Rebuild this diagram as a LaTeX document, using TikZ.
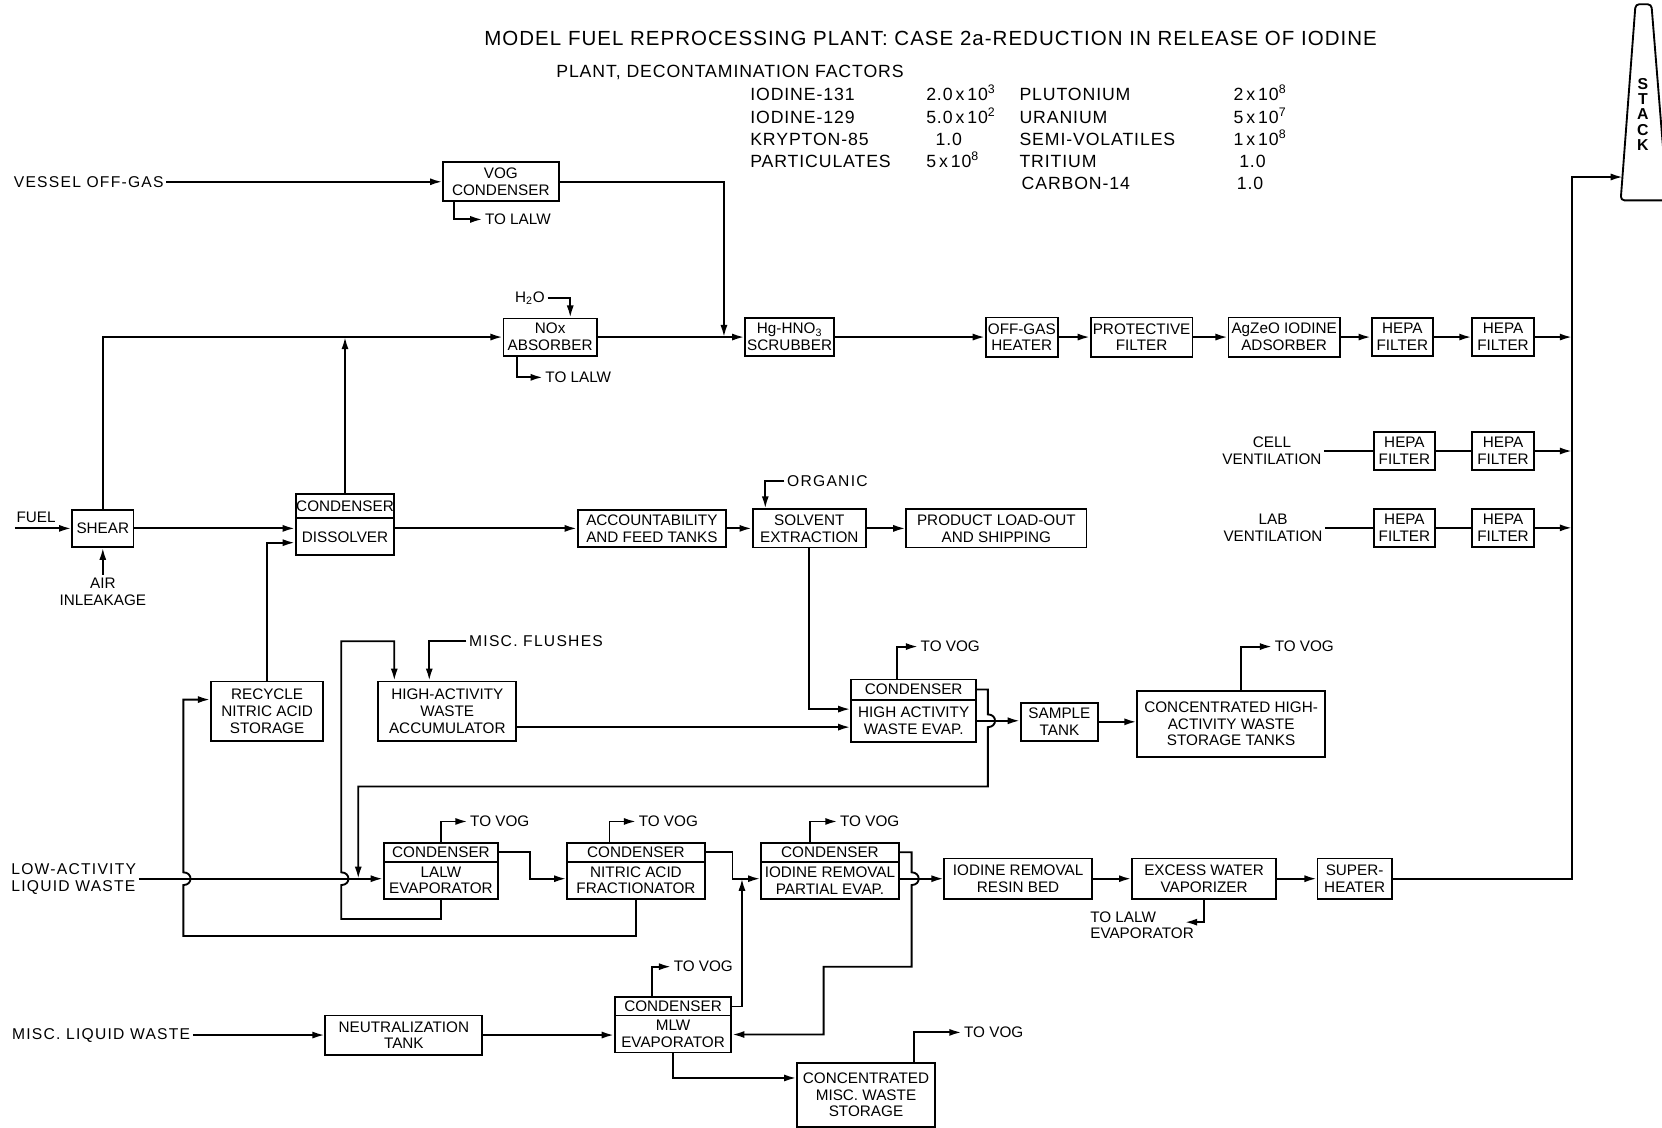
\documentclass[tikz,border=0pt]{standalone}
\usepackage{fontspec}
\setmainfont{Liberation Sans}
\usetikzlibrary{arrows.meta}
\begin{document}
\begin{tikzpicture}[x=0.02cm, y=-0.02cm, line width=1pt, >={Latex[length=6.5pt,width=3.8pt]},
    font=\fontsize{8.2}{9}\selectfont,
    bx/.style 2 args={draw, align=center, inner sep=0pt, minimum width=#1*0.02cm, minimum height=#2*0.02cm},
    lb/.style={inner sep=1pt, align=center},
    wl/.style={lb, font=\fontsize{8.4}{9.2}\selectfont\addfontfeature{LetterSpace=8}},
    tb/.style={anchor=west, inner sep=0pt, text height=6.8pt, text depth=0pt, font=\fontsize{9.5}{10}\selectfont\addfontfeature{LetterSpace=5}}]
  \useasboundingbox (0,0) rectangle (1568,1064);
  \node[font=\fontsize{11}{12}\selectfont\addfontfeature{LetterSpace=5}] (ttl) at (878,36) {MODEL FUEL REPROCESSING PLANT: CASE 2a-REDUCTION IN RELEASE OF IODINE};
  \node[tb] (dfh) at (524,67) {PLANT, DECONTAMINATION FACTORS};
  \foreach \rw/\yy/\na/\va/\nb/\vb in {1/89/IODINE-131/{2.0\,x\,10\textsuperscript{3}}/PLUTONIUM/{2\,x\,10\textsuperscript{8}},
      2/111/IODINE-129/{5.0\,x\,10\textsuperscript{2}}/URANIUM/{5\,x\,10\textsuperscript{7}},
      3/131/KRYPTON-85/{\hspace{5pt}1.0}/SEMI-VOLATILES/{1\,x\,10\textsuperscript{8}},
      4/152/PARTICULATES/{5\,x\,10\textsuperscript{8}}/TRITIUM/{\hspace{3pt}1.0}} {
    \node[tb] (na\rw) at (707,\yy) {\na};
    \node[tb] (va\rw) at (873,\yy) {\va};
    \node[tb] (nb\rw) at (961,\yy) {\nb};
    \node[tb] (vb\rw) at (1163,\yy) {\vb};
  }
  \node[tb] (nb5) at (963,173) {CARBON-14};
  \node[tb] (vb5) at (1166,173) {1.0};
  % stack
  \draw[rounded corners=2] (1529,189) -- (1543,4) -- (1558,4) -- (1573,189) -- cycle;
  \node[align=center, font=\fontsize{8.5}{8.2}\selectfont\bfseries] (stack) at (1550,108) {S\\T\\A\\C\\K};
  \coordinate (ctop) at (1483,167);
  \coordinate (stk) at (1531,167);
  % off-gas line
  \node[bx={109}{37}] (vog) at (472.5,171.5) {VOG\\CONDENSER};
  \node[bx={88}{35}] (nox) at (519,318) {NOx\\ABSORBER};
  \node[bx={84}{36}] (scr) at (745,318) {Hg-HNO\textsubscript{3}\\SCRUBBER};
  \node[bx={68}{37}] (ogh) at (964,318) {OFF-GAS\\HEATER};
  \node[bx={96}{37}] (pf) at (1077,318) {PROTECTIVE\\FILTER};
  \node[bx={105}{37}] (agz) at (1211.5,318) {AgZeO IODINE\\ADSORBER};
  \foreach \nm/\px/\py in {h1/1323/318, h2/1418/318, h3/1325/425.5, h4/1418/425.5, h5/1325/498, h6/1418/498}
    \node[bx={58}{36}] (\nm) at (\px,\py) {HEPA\\FILTER};
  % head end
  \node[bx={58}{35}] (sh) at (97,498.5) {SHEAR};
  \node[bx={93}{23}] (con1) at (325.5,477.5) {CONDENSER};
  \node[bx={93}{35}] (dis) at (325.5,506.5) {DISSOLVER};
  \node[bx={140}{35}] (acc) at (615,498.5) {ACCOUNTABILITY\\AND FEED TANKS};
  \node[bx={107}{36}] (sx) at (763.5,498.5) {SOLVENT\\EXTRACTION};
  \node[bx={170}{36}] (prod) at (940,498.5) {PRODUCT LOAD-OUT\\AND SHIPPING};
  \node[bx={106}{56}] (rec) at (252,671) {RECYCLE\\NITRIC ACID\\STORAGE};
  \node[bx={130}{56}] (hawa) at (422,671) {HIGH-ACTIVITY\\WASTE\\ACCUMULATOR};
  \node[bx={118}{19}] (con2) at (862,650.5) {CONDENSER};
  \node[bx={118}{40}] (hev) at (862,680) {HIGH ACTIVITY\\WASTE EVAP.};
  \node[bx={73}{36}] (st) at (999.5,681) {SAMPLE\\TANK};
  \node[bx={177}{62}] (chaw) at (1161.5,683) {CONCENTRATED HIGH-\\ACTIVITY WASTE\\STORAGE TANKS};
  % liquid waste
  \node[bx={108}{18}] (con3) at (416,804) {CONDENSER};
  \node[bx={108}{35}] (lev) at (416,830.5) {LALW\\EVAPORATOR};
  \node[bx={130}{18}] (con4) at (600,804) {CONDENSER};
  \node[bx={130}{35}] (naf) at (600,830.5) {NITRIC ACID\\FRACTIONATOR};
  \node[bx={130}{18}] (con5) at (783,804) {CONDENSER};
  \node[bx={130}{35}] (irp) at (783,830.5) {IODINE REMOVAL\\PARTIAL EVAP.};
  \node[bx={139}{38}] (irb) at (960.5,829) {IODINE REMOVAL\\RESIN BED};
  \node[bx={136}{38}] (ewv) at (1136,829) {EXCESS WATER\\VAPORIZER};
  \node[bx={70}{38}] (sup) at (1278,829) {SUPER-\\HEATER};
  \node[bx={148}{37}] (neu) at (381,976.5) {NEUTRALIZATION\\TANK};
  \node[bx={110}{17}] (con6) at (635,949.5) {CONDENSER};
  \node[bx={110}{35}] (mlw) at (635,975.5) {MLW\\EVAPORATOR};
  \node[bx={130}{60}] (cms) at (817,1033) {CONCENTRATED\\MISC. WASTE\\STORAGE};
  % labels
  \node[wl, anchor=east] (vg) at (157,171.5) {VESSEL OFF-GAS};
  \node[lb] (fuel) at (34,488) {FUEL};
  \coordinate (fu) at (14,498.5);
  \node[lb] (air) at (97,558) {AIR\\INLEAKAGE};
  \node[lb] (h2o) at (500,281) {H\textsubscript{2}O};
  \node[wl, anchor=west] (org) at (740,454) {ORGANIC};
  \node[wl, anchor=west] (mf) at (440,605) {MISC. FLUSHES};
  \node[lb] (cv) at (1200,425.5) {CELL\\VENTILATION};
  \node[lb] (lv) at (1201,498) {LAB\\VENTILATION};
  \node[wl, anchor=east, align=left] (law) at (131,829) {LOW-ACTIVITY\\LIQUID WASTE};
  \node[wl, anchor=east] (mlq) at (182,976.5) {MISC. LIQUID WASTE};
  \node[lb, anchor=west, align=left] (tle) at (1026,873) {TO LALW\\EVAPORATOR};
  \coordinate (tlx) at (1118,870);
  \node[lb, anchor=west] (tl1) at (455,207) {TO LALW};
  \node[lb, anchor=west] (tl2) at (512,356) {TO LALW};
  \foreach \nm/\px/\py in {tv1/866/610, tv2/1200/610, tv3/441/775, tv4/600/775, tv5/790/775, tv6/633/912, tv7/907/974}
    \node[lb, anchor=west] (\nm) at (\px,\py) {TO VOG};
  % off-gas connectors
  \draw[->] (vg.east) -- (vog.west);
  \draw[->] (vog.east) -| (683,0 |- scr.west);
  \draw[->] (428,0 |- vog.south) |- (tl1.west);
  \draw[->] (sh.north) |- (nox.west);
  \draw[->] (con1.north) -- (con1.north |- nox.west);
  \draw[->] (h2o.east) -| (538,0 |- nox.north);
  \draw[->] (488,0 |- nox.south) |- (tl2.west);
  \foreach \a/\b in {nox/scr, scr/ogh, ogh/pf, pf/agz, agz/h1, h1/h2}
    \draw[->] (\a) -- (\b);
  \draw[->] (h2.east) -- (h2.east -| ctop);
  \draw (cv.east) -- (h3.west |- cv.east);
  \draw (h3) -- (h4);
  \draw[->] (h4.east) -- (h4.east -| ctop);
  \draw (lv.east) -- (h5.west |- lv.east);
  \draw (h5) -- (h6);
  \draw[->] (h6.east) -- (h6.east -| ctop);
  \draw[->] (sup.east) -| (ctop) -- (stk);
  % process connectors
  \draw[->] (fu) -- (sh.west);
  \draw[->] (air.north) -- (sh.south);
  \draw[->] (sh.east) -- (sh.east -| dis.west);
  \draw[->] (rec.north) |- (dis.west |- 0,512);
  \draw[->] (dis.east |- acc.west) -- (acc.west);
  \draw[->] (acc) -- (sx);
  \draw[->] (sx) -- (prod);
  \draw[->] (org.west) -| (722,0 |- sx.north);
  \draw[->] (sx.south) |- (hev.west |- 0,669);
  \draw[->] (hawa.east |- 0,686) -- (hev.west |- 0,686);
  \draw[->] (mf.west) -| (405,0 |- hawa.north);
  \draw[->] (846,0 |- con2.north) |- (tv1.west);
  \draw[->] (hev.east) -- (hev.east -| st.west);
  \draw[->] (con2.east) -- (932,650.5) -- (932,674) .. controls +(9,0) and +(9,0) .. (932,686) -- (932,742) -- (338,742) -- (338,0 |- law.east);
  \draw[->] (st.east) -- (st.east -| chaw.west);
  \draw[->] (1171,0 |- chaw.north) |- (tv2.west);
  % liquid waste connectors
  \draw[->] (law.east) -- (law.east -| lev.west);
  \draw[->] (con3.north) |- (tv3.west);
  \draw[->] (con3.east) -| (500,829) -- (naf.west |- 0,829);
  \draw[->] (575,0 |- con4.north) |- (tv4.west);
  \draw[->] (con4.east) -| (691,829) -- (irp.west |- 0,829);
  \draw[->] (con6.east) -| (700,829);
  \draw[->] (764,0 |- con5.north) |- (tv5.west);
  \draw[->] (con5.east) -- (860,804) -- (860,823) .. controls +(9,0) and +(9,0) .. (860,835) -- (860,912) -- (777,912) -- (777,976) -- (mlw.east |- 0,976);
  \draw[->] (irp.east |- irb.west) -- (irb.west);
  \draw[->] (irb) -- (ewv);
  \draw[->] (ewv) -- (sup);
  \draw[->] (ewv.south) |- (tlx);
  \draw[->] (lev.south) -- (416,867) -- (322,867) -- (322,835) .. controls +(9,0) and +(9,0) .. (322,823) -- (322,605) -- (372,605) -- (372,0 |- hawa.north);
  \draw[->] (naf.south) -- (600,883) -- (173,883) -- (173,835) .. controls +(9,0) and +(9,0) .. (173,823) -- (173,660) -- (rec.west |- 0,660);
  \draw[->] (mlq.east) -- (mlq.east -| neu.west);
  \draw[->] (neu.east) -- (neu.east -| mlw.west);
  \draw[->] (615,0 |- con6.north) |- (tv6.west);
  \draw[->] (mlw.south) |- (cms.west |- 0,1017);
  \draw[->] (862,0 |- cms.north) |- (tv7.west);
\end{tikzpicture}
\end{document}
